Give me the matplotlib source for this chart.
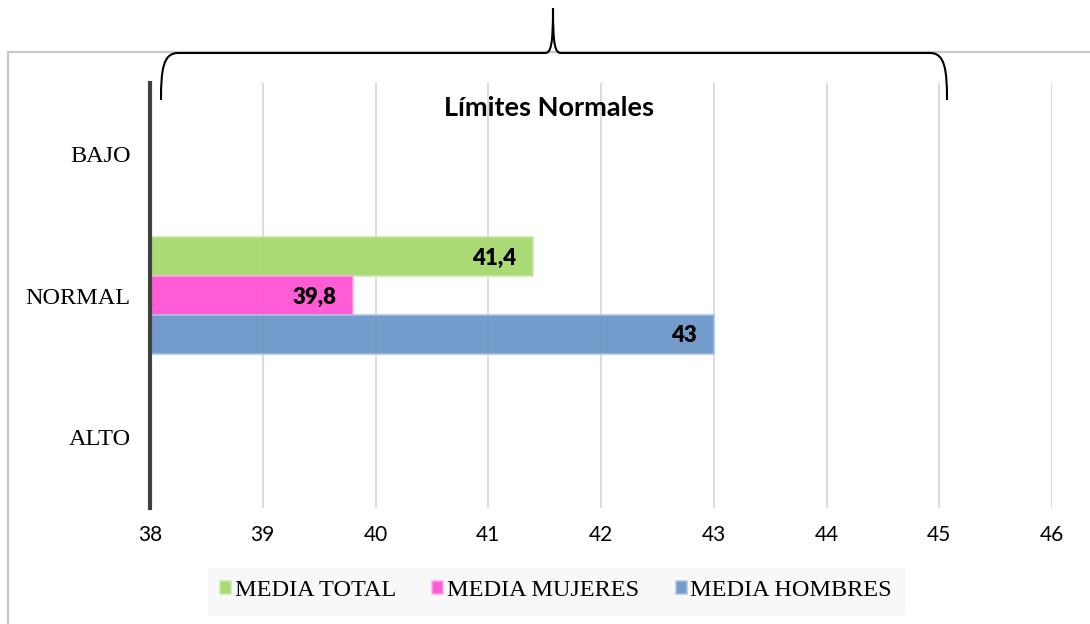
import matplotlib
matplotlib.use("Agg")
import matplotlib.pyplot as plt
from matplotlib.patches import Rectangle, PathPatch
from matplotlib.path import Path
import numpy as np

categories = ["BAJO", "NORMAL", "ALTO"]
series_names = ["MEDIA TOTAL", "MEDIA MUJERES", "MEDIA HOMBRES"]
series_values = [41.4, 39.8, 43]          # all three belong to the NORMAL row
series_labels = ["41,4", "39,8", "43"]
series_colors = ["#A3D86A", "#FF50D2", "#6894C7"]
edge_colors = ["#C8E8A8", "#FFA8E8", "#A8C4E4"]
x_ticks = [38, 39, 40, 41, 42, 43, 44, 45, 46]
title = "Límites Normales"

W, H = 1090, 624
fig = plt.figure(figsize=(W / 100, H / 100), dpi=100)


def fx(px):
    return px / W


def fy(py):
    return 1 - py / H


# chart frame
fig.patches.append(Rectangle((fx(8), fy(700)), fx(1200), fy(52) - fy(700),
                             transform=fig.transFigure, fill=False,
                             edgecolor="#C8C8C8", lw=1.6, zorder=0))

ax = fig.add_axes([fx(150), fy(508), fx(1052) - fx(150), fy(83) - fy(508)])
ax.set_xlim(38, 46)
ax.set_ylim(2.5, -0.5)

normal_idx = categories.index("NORMAL")
bar_h = 0.275
offsets = [-0.275, 0.0, 0.275]
for name, val, lab, col, ec, off in zip(series_names, series_values, series_labels,
                                          series_colors, edge_colors, offsets):
    ax.barh(normal_idx + off, val - 38, left=38, height=bar_h, color=col,
            edgecolor=ec, lw=1.2, alpha=0.93, label=name, zorder=2)
    ax.text(val - 0.15, normal_idx + off + 0.01, lab, ha="right", va="center",
            fontsize=16, fontweight="heavy", family="Lato", zorder=3)

ax.set_xticks(x_ticks)
ax.set_xticklabels([str(t) for t in x_ticks], fontsize=15, family="Lato")
ax.set_yticks(range(len(categories)))
ax.set_yticklabels(categories, fontsize=17.5, family="Liberation Serif")
ax.tick_params(length=0)
ax.tick_params(axis="x", pad=12)
ax.tick_params(axis="y", pad=14)
ax.grid(axis="x", color="#D9D9D9", lw=1.3, zorder=1)
ax.set_axisbelow(True)
for s in ["top", "right", "bottom"]:
    ax.spines[s].set_visible(False)
ax.spines["left"].set_color("#404040")
ax.spines["left"].set_linewidth(3)
ax.spines["left"].set_zorder(4)

fig.text(fx(549), fy(108), title, ha="center", va="center",
         fontsize=19.5, fontweight="bold", family="Lato")

# curly brace over the normal range
pts = [(161, 100), (161, 70), (163, 53), (178, 53), (545, 53),
       (551, 53), (553, 45), (553, 8),
       (553, 45), (555, 53), (561, 53), (930, 53),
       (945, 53), (947, 70), (947, 100)]
codes = [Path.MOVETO, Path.CURVE4, Path.CURVE4, Path.CURVE4, Path.LINETO,
         Path.CURVE4, Path.CURVE4, Path.CURVE4,
         Path.CURVE4, Path.CURVE4, Path.CURVE4, Path.LINETO,
         Path.CURVE4, Path.CURVE4, Path.CURVE4]
brace = Path([(fx(x), fy(y)) for x, y in pts], codes)
fig.patches.append(PathPatch(brace, transform=fig.transFigure, fill=False,
                             edgecolor="black", lw=1.5, zorder=5))

leg = fig.legend(loc="center", bbox_to_anchor=(fx(556), fy(591)), ncol=3,
                 frameon=True, fancybox=False, handlelength=0.45, handleheight=0.45,
                 handletextpad=0.15, columnspacing=1.5, borderpad=0.5,
                 borderaxespad=0, prop={"family": "Liberation Serif", "size": 17.5})
leg.get_frame().set_facecolor("#F7F7F7")
leg.get_frame().set_edgecolor("#F7F7F7")

fig.savefig("out.png", dpi=100)
